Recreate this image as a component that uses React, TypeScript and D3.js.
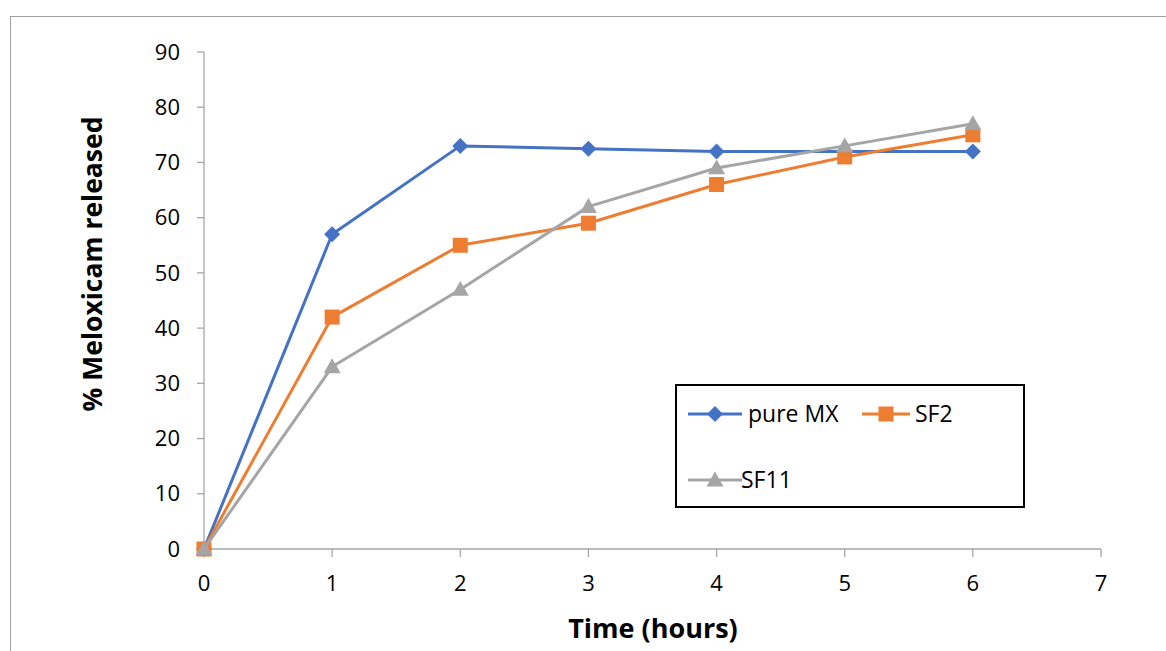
import React from "react";
import * as d3 from "d3";

const timeHours = [0, 1, 2, 3, 4, 5, 6];
const pureMX = [0, 57, 73, 72.5, 72, 72, 72];
const sf2 = [0, 42, 55, 59, 66, 71, 75];
const sf11 = [0, 33, 47, 62, 69, 73, 77];
const xTicks = [0, 1, 2, 3, 4, 5, 6, 7];
const yTicks = [0, 10, 20, 30, 40, 50, 60, 70, 80, 90];

const seriesNames = ["pure MX", "SF2", "SF11"];
const seriesColors = ["#4472C4", "#ED7D31", "#A5A5A5"];
const seriesShapes = ["diamond", "square", "triangle"];

const W = 1166;
const H = 651;

function Marker({ shape, x, y, color }: { shape: string; x: number; y: number; color: string }) {
  if (shape === "diamond") {
    const r = 8;
    return <path d={`M${x},${y - r}L${x + r},${y}L${x},${y + r}L${x - r},${y}Z`} fill={color} />;
  }
  if (shape === "square") {
    const s = 7.5;
    return <rect x={x - s} y={y - s} width={2 * s} height={2 * s} fill={color} />;
  }
  const r = 8.5;
  return <path d={`M${x},${y - r}L${x + r},${y + r * 0.75}L${x - r},${y + r * 0.75}Z`} fill={color} />;
}

export default function App() {
  const x = d3.scaleLinear().domain([0, 7]).range([204, 1101]);
  const y = d3.scaleLinear().domain([0, 90]).range([549, 52]);
  const data = [pureMX, sf2, sf11];
  const line = d3
    .line<number>()
    .x((_, i) => x(timeHours[i]))
    .y((d) => y(d));
  const font = "'Open Sans', 'Liberation Sans', sans-serif";
  const axisColor = "#A6A6A6";

  const legendItems = [
    { lx: 688, ly: 414, tx: 748 },
    { lx: 862, ly: 414, tx: 915 },
    { lx: 688, ly: 480, tx: 741 },
  ];
  const legendLineLen = [54, 48, 54];

  return (
    <svg
      width={W}
      height={H}
      style={{ position: "absolute", left: 0, top: 0, background: "#fff" }}
      fontFamily={font}
    >
      <rect x={10.5} y={16.5} width={W + 20} height={H + 20} fill="#fff" stroke="#A0A0A0" strokeWidth={1} />
      {/* y axis */}
      <line x1={204} x2={204} y1={y(90)} y2={y(0)} stroke={axisColor} strokeWidth={1.3} />
      {yTicks.map((t) => (
        <g key={"y" + t}>
          <line x1={197} x2={204} y1={y(t)} y2={y(t)} stroke={axisColor} strokeWidth={1.3} />
          <text x={180} y={y(t)} dy="0.35em" textAnchor="end" fontSize={22} fill="#000">
            {t}
          </text>
        </g>
      ))}
      {/* x axis */}
      <line x1={x(0)} x2={x(7)} y1={549} y2={549} stroke={axisColor} strokeWidth={1.3} />
      {xTicks.map((t) => (
        <g key={"x" + t}>
          <line x1={x(t)} x2={x(t)} y1={549} y2={557} stroke={axisColor} strokeWidth={1.3} />
          <text x={x(t)} y={583} dy="0.35em" textAnchor="middle" fontSize={22} fill="#000">
            {t}
          </text>
        </g>
      ))}
      <text x={653} y={629} dy="0.35em" textAnchor="middle" fontSize={27} fontWeight="bold" fill="#000">
        Time (hours)
      </text>
      <text
        transform={`translate(93,264) rotate(-90)`}
        dy="0.35em"
        textAnchor="middle"
        fontSize={26.5}
        fontWeight="bold"
        fill="#000"
      >
        % Meloxicam released
      </text>
      {/* series */}
      {data.map((vals, si) => (
        <g key={"s" + si}>
          <path d={line(vals) || ""} fill="none" stroke={seriesColors[si]} strokeWidth={3} strokeLinejoin="round" />
          {vals.map((v, i) => (
            <Marker key={i} shape={seriesShapes[si]} x={x(timeHours[i])} y={y(v)} color={seriesColors[si]} />
          ))}
        </g>
      ))}
      {/* legend */}
      <rect x={676} y={385} width={348} height={122} fill="#fff" stroke="#000" strokeWidth={2} />
      {legendItems.map((it, si) => (
        <g key={"l" + si}>
          <line
            x1={it.lx}
            x2={it.lx + legendLineLen[si]}
            y1={it.ly}
            y2={it.ly}
            stroke={seriesColors[si]}
            strokeWidth={3}
          />
          <Marker shape={seriesShapes[si]} x={it.lx + legendLineLen[si] / 2} y={it.ly} color={seriesColors[si]} />
          <text x={it.tx} y={it.ly} dy="0.35em" fontSize={23} fill="#000">
            {seriesNames[si]}
          </text>
        </g>
      ))}
    </svg>
  );
}
